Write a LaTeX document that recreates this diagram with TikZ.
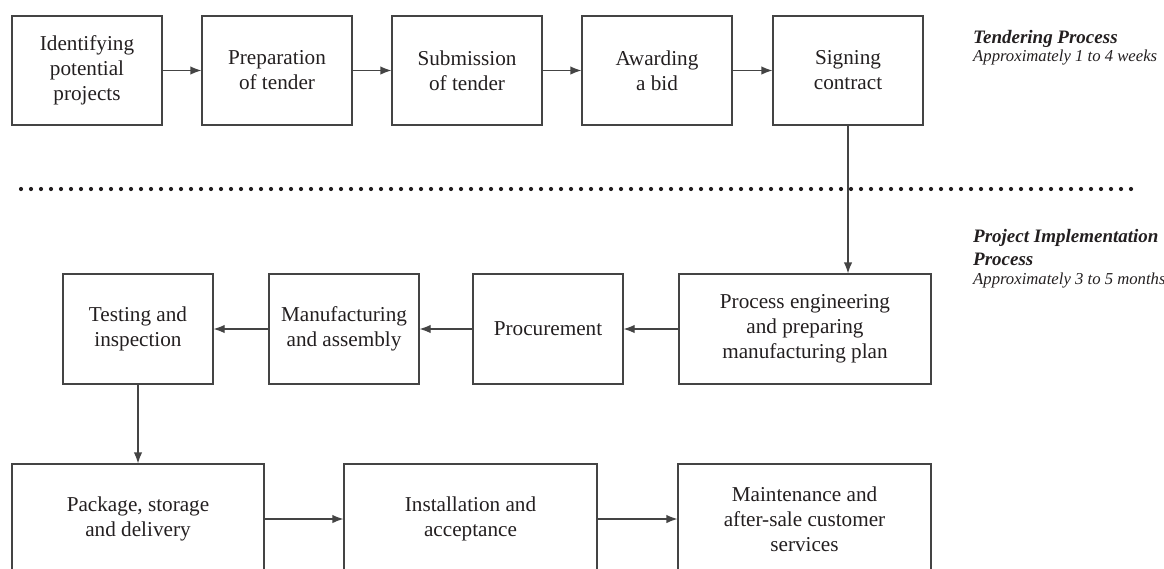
\documentclass[tikz,border=0pt]{standalone}
\usepackage{fontspec}
\setmainfont{Liberation Serif}
\usetikzlibrary{arrows.meta}
\definecolor{linecol}{RGB}{68,68,68}
\definecolor{txtcol}{RGB}{35,31,32}
\tikzset{
  box/.style={draw=linecol, line width=1.2pt, align=center, text=txtcol,
    font=\fontsize{21.2}{25}\selectfont, inner sep=0pt},
  flow/.style={draw=linecol, line width=1.2pt, -{Latex[length=11pt,width=8.5pt]}},
  headlbl/.style={anchor=base west, text=txtcol, inner sep=0pt,
    font=\fontsize{19}{22}\selectfont\bfseries\itshape},
  sublbl/.style={anchor=base west, text=txtcol, inner sep=0pt,
    font=\fontsize{16.7}{20}\selectfont\itshape},
  dotmark/.style={fill=txtcol, draw=none}
}
\begin{document}
\begin{tikzpicture}[x=1pt,y=-1pt]
\useasboundingbox (0,0) rectangle (1164,568);
\clip (0,0) rectangle (1164,568);
% top row
\node[box, minimum width=150pt, minimum height=109pt] (ident) at (87,70.5) {Identifying\\potential\\projects};
\node[box, minimum width=150pt, minimum height=109pt] (prep) at (277,70.5) {Preparation\\of tender};
\node[box, minimum width=150pt, minimum height=109pt] (subm) at (467,70.5) {Submission\\of tender};
\node[box, minimum width=150pt, minimum height=109pt] (award) at (657,70.5) {Awarding\\a bid};
\node[box, minimum width=150pt, minimum height=109pt] (sign) at (848,70.5) {Signing\\contract};
% middle row
\node[box, minimum width=252pt, minimum height=110pt] (proc) at (805,329) {Process engineering\\and preparing\\manufacturing plan};
\node[box, minimum width=150pt, minimum height=110pt] (procure) at (548,329) {Procurement};
\node[box, minimum width=150pt, minimum height=110pt] (manu) at (344,329) {Manufacturing\\and assembly};
\node[box, minimum width=150pt, minimum height=110pt] (test) at (138,329) {Testing and\\inspection};
% bottom row
\node[box, minimum width=252pt, minimum height=110pt] (pack) at (138,519) {Package, storage\\and delivery};
\node[box, minimum width=253pt, minimum height=110pt] (inst) at (470.5,519) {Installation and\\acceptance};
\node[box, minimum width=253pt, minimum height=110pt] (maint) at (804.5,519) {Maintenance and\\after-sale customer\\services};
% connectors
\draw[flow] (ident) -- (prep);
\draw[flow] (prep) -- (subm);
\draw[flow] (subm) -- (award);
\draw[flow] (award) -- (sign);
\draw[flow] (sign.south) -- (sign.south |- proc.north);
\draw[flow] (proc) -- (procure);
\draw[flow] (procure) -- (manu);
\draw[flow] (manu) -- (test);
\draw[flow] (test) -- (pack);
\draw[flow] (pack) -- (inst);
\draw[flow] (inst) -- (maint);
% dotted separator
\foreach \k in {0,...,111} {
  \fill[dotmark] (21+10*\k,189) circle (2.1pt);
}
% side labels
\node[headlbl] (tendh) at (973,43) {Tendering Process};
\node[sublbl] (tends) at (973,61) {Approximately 1 to 4 weeks};
\node[headlbl] (impl1) at (973,242) {Project Implementation};
\node[headlbl] (impl2) at (973,265) {Process};
\node[sublbl] (impls) at (973,284) {Approximately 3 to 5 months};
\end{tikzpicture}
\end{document}
